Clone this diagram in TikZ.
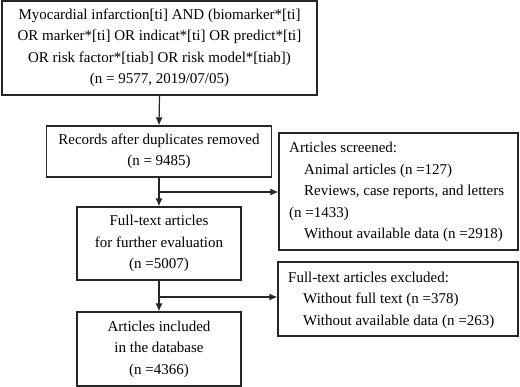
\documentclass[tikz,border=0pt]{standalone}
\usepackage{fontspec}
\setmainfont{Liberation Serif}
\usetikzlibrary{arrows.meta}
\begin{document}
\begin{tikzpicture}[x=1pt,y=-1pt,
  box/.style={draw=black!85,line width=1.2pt,inner sep=0pt,align=center,
    font=\fontsize{15}{21.5}\selectfont,text=black},
  txt/.style={inner sep=0pt,align=left,anchor=west,
    font=\fontsize{15}{21.5}\selectfont,text=black},
  arr/.style={draw=black!85,line width=1.2pt,-{Latex[length=8pt,width=7pt]}},
  ln/.style={draw=black!85,line width=1.2pt}]
\useasboundingbox (0,0) rectangle (520,387);
\node[box,minimum width=315pt,minimum height=94pt] (top) at (159.5,48)
  {Myocardial infarction[ti] AND (biomarker*[ti]\\OR marker*[ti] OR indicat*[ti] OR predict*[ti]\\OR risk factor*[tiab] OR risk model*[tiab])\\(n = 9577, 2019/07/05)};
\node[box,minimum width=225pt,minimum height=51pt] (rec) at (159,151.5)
  {Records after duplicates removed\\(n = 9485)};
\node[box,minimum width=239pt,minimum height=117pt] (scr) at (398.5,191.5) {};
\node[txt] (scrt) at (289,192)
  {Articles screened:\\\hspace*{15pt}Animal articles (n =127)\\\hspace*{15pt}Reviews, case reports, and letters\\(n =1433)\\\hspace*{15pt}Without available data (n =2918)};
\node[box,minimum width=164pt,minimum height=73pt] (full) at (159,243.5)
  {Full-text articles\\for further evaluation\\(n =5007)};
\node[box,minimum width=240pt,minimum height=74pt] (exc) at (398,299) {};
\node[txt] (exct) at (288,300)
  {Full-text articles excluded:\\\hspace*{15pt}Without full text (n =378)\\\hspace*{15pt}Without available data (n =263)};
\node[box,minimum width=164pt,minimum height=74pt] (inc) at (159,349)
  {Articles included\\in the database\\(n =4366)};
\coordinate (b1) at (159,192);
\coordinate (b2) at (159,297);
\draw[arr] (top.south) -- (rec.north);
\draw[arr] (rec.south) -- (full.north);
\draw[arr] (b1) -- (b1 -| scr.west);
\draw[arr] (full.south) -- (inc.north);
\draw[arr] (b2) -- (b2 -| exc.west);
\end{tikzpicture}
\end{document}
